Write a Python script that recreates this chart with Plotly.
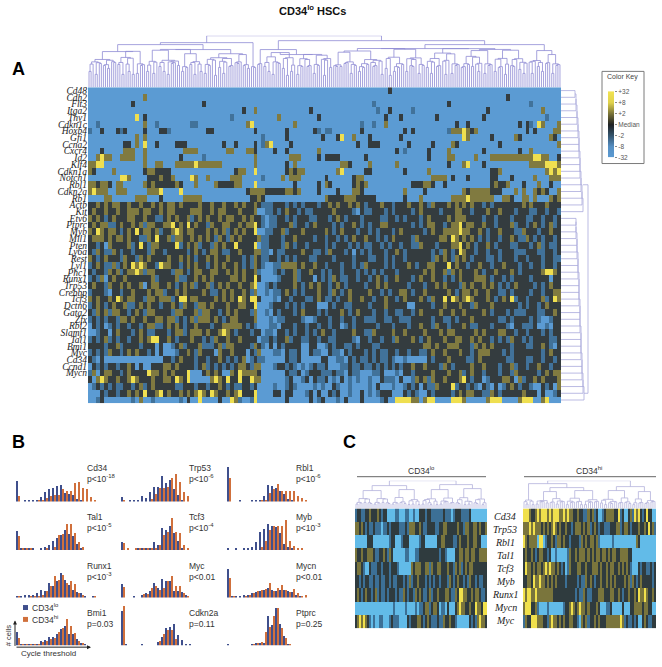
import math
import plotly.graph_objects as go

W, H = 662, 667
SANS = "Liberation Sans"
SERIF = "Liberation Serif"

# ---------- Panel A data ----------
genes_a = ["Cd48","Cdh2","Flt3","Itga2","Thy1","Cdkn1c","Hoxb4","Gfi1","Ccna2","Cxcr4","Id2","Klf4","Cdkn1a","Notch1",
           "Rbl1","Cdkn2a","Rb1","Actb","Kit","Etv6","Ptprc","Myb","Mll1","Pten","Ly6a","Rest","Lyl1","Phc1","Runx1",
           "Trp53","Crebbp","Tcf3","Dctn6","Gata2","Zfx","Rbl2","Slamf1","Tal1","Bmi1","Myc","Cd34","Ccnd1","Mycn"]

# levels: 0 blue, 1 steel, 2 near-black, 3 olive, 4 yellow; 120 columns per row
rows_a = [
"0000000000 0000000000 0000000000 0000000000 0000000000 0000000000 0000000000 0000002000 0000000000 0000000000 0000000000 0000000000",
"0000000000 0000300000 0000000000 0000000000 0000000000 0000000000 0000000000 0000000000 0000000000 0000000000 0000002000 0000000000",
"0000000000 0200000000 0000000002 0000000000 0000000000 0000000000 0000000000 0010000000 0000000000 0200000000 0000000000 0010000000",
"0000000000 0000000000 0000000000 0000000002 0030000000 0000002000 0000000000 0001002000 0010000000 0000000000 0200000000 0000030000",
"0000000000 0040200000 0000000000 0000001000 0000000030 0000000020 0000000000 0000020002 0000000020 0000000000 2000000000 0000001000",
"0010000000 0000300100 0000001100 0000000000 3400000000 0030000000 0000000001 0010030000 0000000000 0002002000 0000000002 0210430003",
"1002000212 0000200022 1000000000 2200000000 0020000000 2000000210 1100000002 0000000000 2020000000 0133343230 0000000000 0202000033",
"0000000000 0030300000 0000000000 0000000000 0000100000 2000000002 0002400300 0200000002 0000000000 0000043000 0020000032 0000000320",
"0000000002 2030400200 0022200000 0000200200 0020134000 0200000000 0000000020 0222000000 0200000200 0032000000 0000200000 0000000003",
"0002000003 3300300000 0000333300 0000033000 3320000200 2000000030 0000000000 0000000020 1000002000 0300000000 2000000002 0030000000",
"0034330033 3300300000 0002000001 0000000000 0030000000 0333000020 2222000000 2000000000 0000002000 0330000030 0033333333 3334433002",
"3344000000 0000300330 0033333433 3333000000 0030000000 2030000000 0000332000 0300000030 0000000000 0200034000 2000000000 0033334443",
"3200003000 0000233222 2000000000 0000000233 0040000000 2323300000 0003400000 2200000000 2000003000 0000000000 0022300000 0000003434",
"0000000044 3000022232 2300004300 3000003330 0000100003 0333000000 2000000233 0000000000 0000000333 3020002000 0022000200 0003000333",
"3323320330 0000323222 2232000300 0032222330 0040000000 0020000020 3200000232 3000000000 0022233200 2000000000 0023223000 2000300200",
"3433300333 0000033340 0004000000 0000000000 2333322222 3323000020 0002000332 0000000000 3000020000 0000032333 3322200030 3003232003",
"0000330000 0033300020 0000333330 0000000000 0223200000 0000000000 3222233322 2220000000 2000300000 0033334333 3330033200 3303000323",
"2232323322 3223223232 3323222232 2322322323 2232111222 1212122212 2323223232 1222322122 2322321322 2323232322 1212222222 3232223222",
"2322322322 3332332232 3322223332 2323322232 2230011212 3221211222 2232222102 1122212122 2212322221 2223322122 2322322212 2211221221",
"3232123222 3322322112 3232231232 3223233223 2322101122 1212221122 2123212221 2222112212 1222123222 2323332222 1221222122 2112212212",
"2323311232 2323133223 3423242322 1322332232 3342101122 2312212322 2212122321 2122332222 2212123322 1233423322 3221222312 2123212312",
"3243233212 3242332312 2343233222 3232312323 2240011223 1222322222 3212322212 2121222123 2222212322 3333433223 2122322211 3222122322",
"2333232332 3221132422 3133223232 3213213232 2223112221 2232222122 1221212322 3221212322 2213222223 3243232321 2122122321 1321212212",
"2212032222 3124213322 2241232312 2132322422 2240112221 3212212222 1212221212 1122121221 2211322212 2233423212 2321222112 2212312112",
"2132113212 2122213221 2222212321 2332112232 2233110211 2222322112 1322212021 2122212232 1222222121 3212432212 2122122211 1222112212",
"3212322213 2213232222 3223232122 3232232221 2132112212 1212221122 2212222122 2112212122 1222222132 3213232122 2112122212 2122212211",
"1232113123 2434322143 3221232322 1232322321 2132100113 3332322322 1222122121 3222212122 2321223322 2423221223 2212232221 2212212212",
"2122132312 3343133222 2133212332 2332232323 2231000121 2231223221 2122122212 1212122212 2222232322 3132322232 1223222321 2222234432",
"1213023223 2222223122 2231122323 2322223323 2242000012 2231222021 2132112212 2123212232 2212322322 1212322233 3212212122 2212222022",
"2322132232 3223023322 3212323122 3123232232 2340012122 2232123232 2123212222 1223232222 2122212232 3222132322 3232121232 2221212322",
"1222102212 2322232331 2232322223 2112323223 2130010112 3212122232 2132123222 2322121223 3212232222 2321233232 2322112122 2212212233",
"3232232432 3322133233 3124423322 2232323243 2442000102 2122211232 1121223223 2212232212 3222321322 4243234322 2321232412 2122231243",
"1232123223 1123232212 2321322133 2322232233 2240001222 1212122200 0212211222 2122232222 2002222122 3222322132 2232222221 2122123222",
"2132313322 1232133222 2133222313 3221232322 2130010212 2212322212 1222321232 2212212211 2212322223 2232232222 3212221211 1222112232",
"1212122133 2322322332 3312123133 3232123322 2230001011 2222100122 2122122122 1112211221 1122222122 1121222322 2222112122 2212100122",
"0212012122 1221233112 3232122322 2122333332 1210001102 2212212212 2122012122 2221222122 2122322132 2122232112 2212221022 1112001022",
"0012202322 2123211222 1233123332 3223432122 2122011022 1212212123 2212222322 1132222322 3222232223 2332222232 3222332212 2122212122",
"1212312122 1223234422 3212223221 2132232232 2220112122 3122112212 2112222102 2122122132 2232123222 3223322323 2212121322 1212222112",
"2222122312 2221222020 0123122231 1123133222 2132102021 2222002200 1212211212 2211222222 2222233232 2333222132 3232222122 2112232102",
"1212132212 3232212020 0012232132 2203223222 0213000110 2112002110 0211021222 1212112212 2122112322 3222322123 3322212122 2222212322",
"2102000000 0000000002 2123222122 1223212123 0121100000 2112000002 2001102121 1212112100 1000002122 2322221123 2222221122 2112212212",
"0212122122 3202002223 3232222123 1212121233 2133000122 1210101211 2000112112 1121212121 2232232221 3212222322 3222122312 2122322122",
"1302332212 3222243323 2322240002 3232003243 3332000000 2112012221 1121102110 0011200010 2212222322 2322312322 1222122132 2222123233",
"2034322322 3432223223 3243240000 0343242242 2433000000 1200120211 2010201010 0100211102 0013231322 3222342122 0122233203 1223232223",
"0121212112 2123123222 2211222122 1223212112 2120000100 1210000101 0021001000 0102000100 1212021132 2241221210 2102012321 2210021203",
"0002122122 3232422342 3223232343 2432232342 2240000220 2200012020 0212001002 0101222000 2121002122 2212323322 1132122222 3222020012",
"0012000000 0103001000 0001020040 0002004310 0140000000 2000002012 0001020002 0000120044 4433034400 0044430000 0344400003 4440034000",
]

merge_top = [16, 21, 13, 24, 18, 14, 22, 19, 12, 25, 16, 20, 14, 23, 13, 21]
split_top = [0.5, 0.4, 0.6, 0.34, 0.5, 0.66, 0.45, 0.55]
# explicit tree of panel A: (merge height, left, right); integers are leaf clusters
tree_a = (52,
          (45, (43, (36, 14, 14), (38, 28, 23)), 3),
          (47, (38, 3, (33, 16, 18)),
               (43, (39, 45, 50), (37, 8, 8))))

row_merge_1 = [14, 15, 15, 16, 16, 17, 17, 18, 18, 18, 19, 19, 19, 20, 20, 21, 21, 22]
row_merge_2 = [15, 15, 15, 16, 16, 16, 17, 17, 17, 18, 18, 18, 18, 19, 19, 19, 19, 20, 20, 20, 20, 21, 21, 21, 22, 22, 23, 23, 24]
row_merge_root = 27

key_labels = ["-32", "-8", "-2", "Median", "+2", "+8", "+32"]
key_levels = [0, 1, 2, 3, 4, 5, 6]

# ---------- Panel B data ----------
hist_names = ["Cd34","Trp53","Rbl1","Tal1","Tcf3","Myb","Runx1","Myc","Mycn","Bmi1","Cdkn2a","Ptprc"]
hist_p = ["p&lt;10<sup>-18</sup>","p&lt;10<sup>-6</sup>","p&lt;10<sup>-6</sup>","p&lt;10<sup>-5</sup>","p&lt;10<sup>-4</sup>","p&lt;10<sup>-3</sup>",
          "p&lt;10<sup>-3</sup>","p&lt;0.01","p&lt;0.01","p=0.03","p=0.11","p=0.25"]
hist_lo = [
 [21,0,1,1,1,1,5,10,13,14,16,17,9,8,7,3,1,0,0,0,0],
 [5,0,1,1,1,6,4,10,15,15,26,19,22,13,7,2,0],
 [35,0,0,1,0,0,1,1,2,6,17,16,14,11,8,3,1,0,0,0],
 [19,1,1,2,1,0,2,3,5,9,12,15,20,16,14,6,2,0],
 [8,0,0,0,1,1,1,2,8,5,22,20,24,17,9,2,0],
 [1,0,1,0,1,1,3,8,18,21,26,24,23,17,6,3,1,0,0],
 [2,1,3,3,3,5,8,7,15,12,17,25,18,13,8,6,5,1,0,2,0],
 [14,0,0,1,0,3,5,7,15,10,19,17,17,7,7,6,3,0],
 [29,1,1,1,3,3,5,6,7,8,10,8,7,8,8,7,6,3,2,0,0],
 [14,1,1,1,1,2,5,6,9,9,12,17,20,12,12,7,3,1],
 [35,1,0,0,0,1,0,0,0,4,9,18,19,22,11,6,2,1],
 [1,0,0,0,0,0,1,3,3,3,30,21,38,22,10,1],
]
hist_hi = [
 [6,0,0,0,0,1,1,4,6,7,7,13,11,11,19,20,14,13,5,1,0],
 [2,0,0,0,0,0,0,3,8,14,14,15,24,28,20,10,6],
 [24,0,0,0,0,0,0,0,1,2,9,13,18,11,11,11,11,6,4,1],
 [14,1,1,1,0,0,0,1,0,3,15,16,26,26,17,8,3,0],
 [7,1,0,1,1,1,1,1,1,5,15,18,32,18,17,5,2],
 [0,0,0,0,0,0,0,0,3,9,20,24,24,24,30,9,4,1,1],
 [1,0,0,1,1,1,3,7,12,22,18,23,15,17,14,5,3,0,0,2,0],
 [11,0,0,0,0,4,4,10,12,8,10,17,22,12,12,5,2,0],
 [20,1,0,0,2,3,5,7,8,9,15,7,10,13,8,6,9,5,2,3,0],
 [8,1,1,1,1,2,4,5,7,8,14,18,27,20,13,5,3,0],
 [40,0,0,0,0,0,0,0,0,5,12,16,16,7,0,0,0,0],
 [0,0,0,0,0,0,1,3,4,14,19,30,38,18,8,1],
]

# ---------- Panel C data ----------
genes_c = ["Cd34","Trp53","Rbl1","Tal1","Tcf3","Myb","Runx1","Mycn","Myc"]
rows_c_lo = [
"1221122322 2321220000 1100011001 0022212211 1111211101 2221111200 000000",
"3323212112 1110112122 2211121333 2232112222 1122332222 2322133223 323223",
"0000002220 0000000122 0001222000 0012200000 0223322221 1232223223 322000",
"3223223332 1122321320 0000011000 1122222222 2212210000 2233233233 223333",
"2332100211 1221222122 2100000032 3332233132 2332223221 3231232332 222222",
"2212122112 1121122121 1222121312 2322212121 2212221321 2322121322 121122",
"2321232212 3121121222 1211321221 3232112312 2322233211 3244332232 332112",
"0000000000 0000000001 0000010000 1011233123 3201102000 2343322322 433244",
"2343432101 0011000121 1100002122 2332123211 1211322322 1000000212 134332",
]
rows_c_hi = [
"4443223434 4434344433 4343322322 1132312001 2333322412 0023143421 242200",
"3334343332 3232343232 2322123332 3231232122 1112223312 3321222322 324231",
"4323333044 0122321332 3221222213 2323323100 0000100000 0000003200 000000",
"2322321233 2212001000 0013223233 3232323323 3232332233 3322000000 000000",
"2433232332 3434332321 2013222332 2322333232 2323322323 2321000212 211212",
"2233243343 3232323222 2122222121 1323212232 2323232222 3231321232 222212",
"4344334333 3333322222 2222221211 3211222333 2223322321 2232232433 432232",
"3444223100 0010000000 1223432343 3232223200 0112000002 0002233332 332200",
"1322444333 2213433232 3223322103 2312232322 2333333343 1211212002 321122",
]
tree_c_lo = (28, (23, (18, 9, 9), (19, 8, 7)), (24, (19, 9, 8), (20, 9, 7)))
tree_c_hi = (28, (25, 6, (21, (17, 7, 8), (18, 9, 8))), (22, (18, 9, 7), (17, 6, 6)))


# ---------- helpers ----------
def xd(x):
    return x / W


def yd(y):
    return 1 - y / H


fig = go.Figure()
axis_no = [0]
layout_axes = {}


def new_axes(x0, x1, y0, y1, xopts=None, yopts=None):
    axis_no[0] += 1
    n = axis_no[0]
    s = "" if n == 1 else str(n)
    base = dict(showgrid=False, zeroline=False, showticklabels=False, ticks="", showline=False, fixedrange=True)
    xa = dict(base, domain=[xd(x0), xd(x1)], anchor="y" + s)
    ya = dict(base, domain=[yd(y1), yd(y0)], anchor="x" + s)
    xa.update(xopts or {})
    ya.update(yopts or {})
    layout_axes["xaxis" + s] = xa
    layout_axes["yaxis" + s] = ya
    return "x" + s, "y" + s


def parse(rows, n):
    out = []
    for r in rows:
        v = [int(c) for c in r.replace(" ", "")]
        v = (v + [0] * n)[:n]
        out.append(v)
    return out


def dendro_segments(tree, merges, splits, scale):
    xs, ys = [], []
    st = {"leaf": 0, "m": 0, "s": 0}

    def seg(a, b, c, d):
        xs.extend([a, c, None])
        ys.extend([b, d, None])

    def sub(n):
        if n == 1:
            x = st["leaf"]
            st["leaf"] += 1
            return x, 0.0
        frac = splits[st["s"] % len(splits)]
        st["s"] += 1
        l = min(n - 1, max(1, int(round(n * frac))))
        lx, lh = sub(l)
        rx, rh = sub(n - l)
        base = merges[st["m"] % len(merges)]
        st["m"] += 1
        h = max(lh, rh, 0) + 0.8 * scale
        h = max(h, scale * (base + 4.0 * (math.log2(n) - 1)))
        return join(lx, lh, rx, rh, h)

    def join(lx, lh, rx, rh, h):
        seg(lx, lh, lx, h)
        seg(rx, rh, rx, h)
        seg(lx, h, rx, h)
        return (lx + rx) / 2, h

    def walk(node):
        if isinstance(node, int):
            return sub(node)
        h, a, b = node
        lx, lh = walk(a)
        rx, rh = walk(b)
        return join(lx, lh, rx, rh, h)

    walk(tree)
    return xs, ys, st["leaf"]


def caterpillar(rows_idx, heights, xs, ys):
    node_y = rows_idx[0]
    prev_h = 0
    for r, h in zip(rows_idx[1:], heights):
        xs += [prev_h, h, None, 0, h, None, h, h, None]
        ys += [node_y, node_y, None, r, r, None, node_y, r, None]
        node_y = (node_y + r) / 2
        prev_h = h
    return node_y, prev_h


# ---------- Panel A ----------
SCALE_A = [[0, "#5b9bd3"], [0.25, "#41729a"], [0.5, "#343c3f"], [0.75, "#807a40"], [1, "#efdf50"]]
ncol_a = 120
za = parse(rows_a, ncol_a)
xa_ref, ya_ref = new_axes(88, 561, 85, 404,
                          xopts=dict(range=[-0.5, ncol_a - 0.5]),
                          yopts=dict(range=[46.5, -0.5], showticklabels=True,
                                     tickvals=list(range(len(genes_a))),
                                     ticktext=[f"<i>{g}</i>" for g in genes_a],
                                     tickfont=dict(family=SERIF, size=9.5, color="#222"),
                                     tickangle=0, ticklen=0, automargin=False))
fig.add_trace(go.Heatmap(z=za, xaxis=xa_ref, yaxis=ya_ref, zmin=0, zmax=4, colorscale=SCALE_A,
                         showscale=False, hoverinfo="skip"))

dx, dy, n_leaf = dendro_segments(tree_a, merge_top, split_top, 1.0)
xr, yr = new_axes(88, 561, 33, 85, xopts=dict(range=[-0.5, n_leaf - 0.5]), yopts=dict(range=[0, 52]))
fig.add_trace(go.Scatter(x=dx, y=dy, mode="lines", xaxis=xr, yaxis=yr, hoverinfo="skip", showlegend=False,
                         line=dict(color="#8f8bd4", width=0.8)))

rx_list, ry_list = [], []
ny1, nh1 = caterpillar(list(range(0, 19)), row_merge_1, rx_list, ry_list)
ny2, nh2 = caterpillar(list(range(18 + 1, 47)), row_merge_2, rx_list, ry_list)
rx_list += [nh1, row_merge_root, None, nh2, row_merge_root, None, row_merge_root, row_merge_root, None]
ry_list += [ny1 - 3, ny1 - 3, None, ny2, ny2, None, ny1 - 3, ny2, None]
xr2, yr2 = new_axes(561, 589, 85, 404, xopts=dict(range=[0, 28]), yopts=dict(range=[46.5, -0.5]))
fig.add_trace(go.Scatter(x=rx_list, y=ry_list, mode="lines", xaxis=xr2, yaxis=yr2, hoverinfo="skip",
                         showlegend=False, line=dict(color="#a9a9dc", width=0.8)))

# colour key
KEY_SCALE = [[0, "#5b9bd3"], [1 / 6, "#5690c4"], [2 / 6, "#35566f"], [3 / 6, "#1f2224"],
             [4 / 6, "#7a7338"], [5 / 6, "#e0d24c"], [1, "#f2e350"]]
xk, yk = new_axes(608, 614, 89, 156,
                  xopts=dict(range=[-0.5, 0.5]),
                  yopts=dict(range=[-0.03, 6.03], side="right", showticklabels=True, tickvals=key_levels,
                             ticktext=key_labels, ticks="outside", ticklen=2, tickcolor="#888",
                             tickfont=dict(family=SANS, size=6.5, color="#555")))
fig.add_trace(go.Heatmap(z=[[v] for v in key_levels], y=key_levels, x=[0], xaxis=xk, yaxis=yk, zmin=0, zmax=6,
                         colorscale=KEY_SCALE, zsmooth="best", showscale=False, hoverinfo="skip"))

# ---------- Panel B ----------
col_x = [15.5, 121, 227]
base_y = [503, 552, 600, 648]
LO, HI = "#3f4f8c", "#d0703c"
for i, name in enumerate(hist_names):
    c, r = i % 3, i // 3
    x0 = col_x[c]
    bins = list(range(len(hist_lo[i])))
    xb, yb = new_axes(x0, x0 + 88, base_y[r] - 41, base_y[r],
                      xopts=dict(range=[-0.5, 21.5]), yopts=dict(range=[0, 41]))
    fig.add_trace(go.Bar(x=bins, y=hist_lo[i], marker=dict(color=LO, line=dict(width=0)), xaxis=xb, yaxis=yb,
                         offsetgroup="lo", showlegend=False, hoverinfo="skip"))
    fig.add_trace(go.Bar(x=bins, y=hist_hi[i], marker=dict(color=HI, line=dict(width=0)), xaxis=xb, yaxis=yb,
                         offsetgroup="hi", showlegend=False, hoverinfo="skip"))

# ---------- Panel C ----------
SCALE_C = [[0, "#62bbe8"], [0.25, "#3c7096"], [0.5, "#2f3b3e"], [0.75, "#7a753c"], [1, "#f0e04c"]]
ncol_c = 66
for rows, tree, (x0, x1) in ((rows_c_lo, tree_c_lo, (355, 487)), (rows_c_hi, tree_c_hi, (523, 656))):
    z = parse(rows, ncol_c)
    xc, yc = new_axes(x0, x1, 510, 631, xopts=dict(range=[-0.5, ncol_c - 0.5]), yopts=dict(range=[8.5, -0.5]))
    fig.add_trace(go.Heatmap(z=z, xaxis=xc, yaxis=yc, zmin=0, zmax=4, colorscale=SCALE_C, showscale=False,
                             hoverinfo="skip"))
    px, py, n = dendro_segments(tree, [8, 10, 7, 11, 9, 8, 12, 7], split_top, 0.55)
    xd2, yd2 = new_axes(x0, x1, 482, 510, xopts=dict(range=[-0.5, n - 0.5]), yopts=dict(range=[0, 28]))
    fig.add_trace(go.Scatter(x=px, y=py, mode="lines", xaxis=xd2, yaxis=yd2, hoverinfo="skip", showlegend=False,
                             line=dict(color="#b4b2dc", width=0.8)))


# ---------- annotations ----------
def note(text, x, y, size=8.5, color="#333", family=SANS, xanchor="left", angle=0):
    return dict(text=text, x=xd(x), y=yd(y), xref="paper", yref="paper", showarrow=False, xanchor=xanchor,
                yanchor="middle", textangle=angle, font=dict(family=family, size=size, color=color),
                align="left")


ann = [
    note("<b>CD34<sup>lo</sup> HSCs</b>", 312, 7, size=11, color="#111", xanchor="center"),
    note("<b>A</b>", 10, 67, size=18, color="#000"),
    note("<b>B</b>", 10, 443, size=18, color="#000"),
    note("<b>C</b>", 341, 443, size=18, color="#000"),
    note("Color Key", 622.5, 75, size=7, color="#444", xanchor="center"),
    note("CD34<sup>lo</sup>", 30, 610, size=8.5),
    note("CD34<sup>hi</sup>", 30, 622, size=8.5),
    note("# cells", 8, 638, size=7.5, xanchor="center", angle=-90),
    note("Cycle threshold", 48, 656, size=8, xanchor="center"),
    note("CD34<sup>lo</sup>", 421, 472, size=8.5, xanchor="center"),
    note("CD34<sup>hi</sup>", 589, 472, size=8.5, xanchor="center"),
]
label_y = [(469, 479.5), (519, 529.5), (568, 579), (616, 627)]
label_x = [85, 187, 294]
for i, name in enumerate(hist_names):
    c, r = i % 3, i // 3
    ann.append(note(name, label_x[c], label_y[r][0]))
    ann.append(note(hist_p[i], label_x[c], label_y[r][1]))
for i, g in enumerate(genes_c):
    ann.append(note(f"<i>{g}</i>", 505, 518 + i * 13.1, size=10, color="#222", family=SERIF, xanchor="center"))

# axis arrows in the legend corner of panel B
for tx, ty, ax, ay in ((91, 650, -76, 0), (15, 623, 0, 27)):
    ann.append(dict(x=xd(tx), y=yd(ty), xref="paper", yref="paper", ax=ax, ay=ay, axref="pixel", ayref="pixel",
                    text="", showarrow=True, arrowhead=2, arrowsize=0.8, arrowwidth=1, arrowcolor="#222"))


def rect(x0, y0, x1, y1, **kw):
    return dict(type="rect", xref="paper", yref="paper", x0=xd(x0), x1=xd(x1), y0=yd(y0), y1=yd(y1), **kw)


def hline(x0, x1, y, color):
    return dict(type="line", xref="paper", yref="paper", x0=xd(x0), x1=xd(x1), y0=yd(y), y1=yd(y),
                line=dict(color=color, width=1))


shapes = [
    rect(602, 69, 644, 162, line=dict(color="#7a7a7a", width=1), fillcolor="rgba(0,0,0,0)"),
    rect(23, 607.5, 28, 612.5, line=dict(width=0), fillcolor=LO),
    rect(23, 619.5, 28, 624.5, line=dict(width=0), fillcolor=HI),
    hline(357, 486, 478, "#666"),
    hline(524, 656, 478, "#666"),
]

fig.update_layout(width=W, height=H, autosize=False, margin=dict(l=0, r=0, t=0, b=0), paper_bgcolor="white",
                  plot_bgcolor="rgba(0,0,0,0)", barmode="group", bargap=0, bargroupgap=0, showlegend=False,
                  annotations=ann, shapes=shapes, **layout_axes)
fig.write_html("out.html", post_script="document.body.style.margin='0';", config={"displayModeBar": False})
